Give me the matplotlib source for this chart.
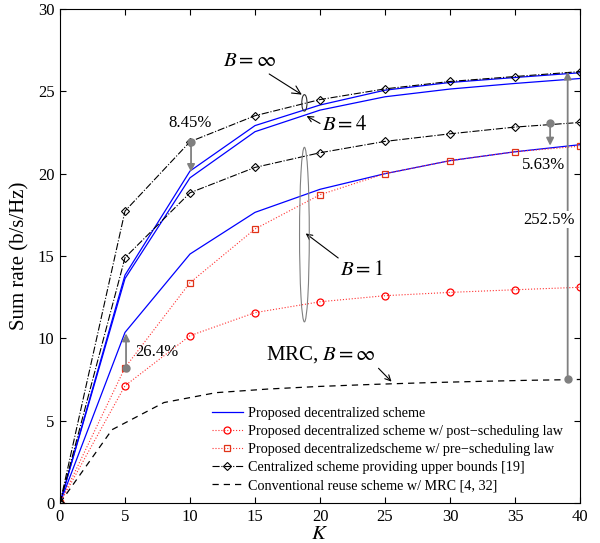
import matplotlib
matplotlib.use('Agg')
import matplotlib.pyplot as plt
from matplotlib.patches import Ellipse

plt.rcParams['font.family'] = ['Liberation Serif', 'DejaVu Serif']
plt.rcParams['mathtext.fontset'] = 'stix'

# data
K = [0, 5, 10, 15, 20, 25, 30, 35, 40]
prop_inf = [0, 13.84, 20.16, 22.92, 24.17, 25.07, 25.54, 25.84, 26.13]
prop_b4 = [0, 13.63, 19.75, 22.55, 23.86, 24.67, 25.14, 25.48, 25.78]
prop_b1 = [0, 10.36, 15.12, 17.65, 19.05, 20.0, 20.79, 21.33, 21.76]
post_sched = [0, 7.12, 10.16, 11.56, 12.22, 12.59, 12.79, 12.95, 13.1]
pre_sched = [0, 8.22, 13.38, 16.64, 18.72, 20.0, 20.79, 21.33, 21.67]
cent_inf = [0, 17.73, 21.94, 23.52, 24.5, 25.15, 25.6, 25.9, 26.2]
cent_b1 = [0, 14.9, 18.84, 20.38, 21.27, 21.96, 22.42, 22.83, 23.11]
K_mrc = [0, 4, 8, 12, 16, 20, 24, 28, 32, 36, 40]
mrc_inf = [0, 4.45, 6.1, 6.7, 6.92, 7.08, 7.2, 7.3, 7.38, 7.45, 7.5]

legend_labels = [
    'Proposed decentralized scheme',
    'Proposed decentralized scheme w/ post\u2212scheduling law',
    'Proposed decentralizedscheme w/ pre\u2212scheduling law',
    'Centralized scheme providing upper bounds [19]',
    'Conventional reuse scheme w/ MRC [4, 32]',
]

fig = plt.figure(figsize=(6, 5.43), dpi=100)
ax = fig.add_axes([0.1, 0.0737, 0.8667, 0.9097])

lw = 0.9
h1, = ax.plot(K, prop_inf, '-', color='blue', lw=lw)
ax.plot(K, prop_b4, '-', color='blue', lw=lw)
ax.plot(K, prop_b1, '-', color='blue', lw=lw)
h2, = ax.plot(K, post_sched, ':', color='#ff3030', lw=0.8, marker='o',
              ms=5, mfc='none', mec='red', mew=0.9)
h3, = ax.plot(K, pre_sched, ':', color='#ff3030', lw=0.8, marker='s',
              ms=4, mfc='none', mec='#e03318', mew=0.9)
h4, = ax.plot(K, cent_inf, '-.', color='black', lw=0.8, marker='D',
              ms=4.2, mfc='none', mec='black', mew=0.8)
ax.plot(K, cent_b1, '-.', color='black', lw=0.8, marker='D',
        ms=4.2, mfc='none', mec='black', mew=0.8)
h5, = ax.plot(K_mrc, mrc_inf, '--', color='black', lw=0.9, dashes=(5, 4))

ax.set_xlim(0, 40)
ax.set_ylim(0, 30)
ax.set_xticks(range(0, 41, 5))
ax.set_yticks(range(0, 31, 5))
ax.tick_params(direction='in', top=True, right=True, labelsize=12, length=4,
               pad=4)
ax.set_xlabel('$K$', fontsize=15, labelpad=0)
ax.set_ylabel('Sum rate (b/s/Hz)', fontsize=15, labelpad=6)

gray = '#808080'


def gain_arrow(x, y0, y1):
    ax.annotate('', xy=(x, y1), xytext=(x, y0),
                arrowprops=dict(arrowstyle='-|>', color=gray, lw=1.3,
                                mutation_scale=11, shrinkA=0, shrinkB=0),
                zorder=5)
    ax.plot([x], [y0], 'o', color=gray, ms=5, zorder=6)


gain_arrow(10.08, 21.94, 20.1)
ax.text(10.0, 23.05, '8.45%', ha='center', va='center', fontsize=12)
gain_arrow(5.08, 8.22, 10.3)
ax.text(5.75, 9.15, '26.4%', ha='left', va='center', fontsize=12)
gain_arrow(37.7, 23.09, 21.7)
ax.text(37.2, 20.5, '5.63%', ha='center', va='center', fontsize=12)
gain_arrow(39.05, 7.51, 26.2)
ax.text(37.6, 17.2, '252.5%', ha='center', va='center', fontsize=12, zorder=7,
        bbox=dict(facecolor='white', edgecolor='none', pad=0.5))

ax.add_patch(Ellipse((18.8, 24.3), 0.4, 1.0, fill=False, edgecolor='#303030',
                     lw=0.8, zorder=4))
ax.add_patch(Ellipse((18.8, 16.3), 0.75, 10.6, fill=False, edgecolor=gray,
                     lw=0.8, zorder=4))

arrow_kw = dict(arrowstyle='->', color='black', lw=0.8, shrinkA=0, shrinkB=0)
ax.annotate(r'$B=\infty$', xy=(18.6, 24.8), xytext=(14.6, 26.8),
            ha='center', va='center', fontsize=15, arrowprops=arrow_kw)
ax.annotate('', xy=(18.97, 23.5), xytext=(20.0, 23.05), arrowprops=arrow_kw)
ax.text(20.15, 22.95, r'$B=4$', ha='left', va='center', fontsize=15)
ax.annotate('', xy=(18.9, 16.37), xytext=(21.4, 14.88), arrowprops=arrow_kw)
ax.text(23.2, 14.1, r'$B=1$', ha='center', va='center', fontsize=15)
ax.annotate('', xy=(25.5, 7.37), xytext=(24.5, 8.18), arrowprops=arrow_kw)
ax.text(20.1, 9.0, r'MRC, $B=\infty$', ha='center', va='center', fontsize=15)

leg = ax.legend([h1, h2, h3, h4, h5], legend_labels, loc='upper left',
                bbox_to_anchor=(0.286, 0.2005), fontsize=10.2, frameon=True,
                fancybox=False, edgecolor='white', framealpha=1,
                borderpad=0.2, borderaxespad=0, handlelength=2.25,
                handletextpad=0.3, labelspacing=0.36)

fig.savefig('out.png', dpi=100, facecolor='white')
